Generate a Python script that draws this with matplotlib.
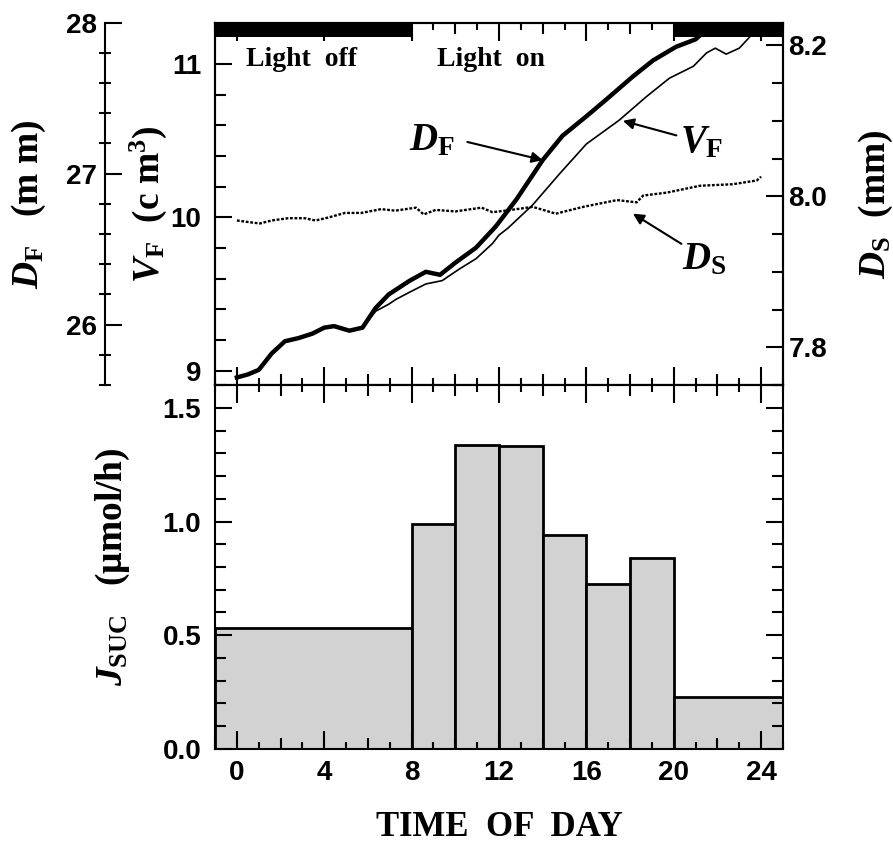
import numpy as np
import matplotlib
matplotlib.use("Agg")
import matplotlib.pyplot as plt
from matplotlib.ticker import MultipleLocator, FuncFormatter, FormatStrFormatter

# time of day (h) and readings, top panel
df_hours = [0.0, 0.5, 1.0, 1.6, 2.2, 2.8, 3.45, 4.0, 4.45, 5.15, 5.75, 6.35, 6.95, 7.9, 8.65,
            9.3, 10.0, 10.95, 11.85, 12.8, 14.0, 14.9, 16.0, 16.9, 18.1, 19.05, 20.1, 21.0,
            21.3, 22.0, 24.0]
df_mm = [25.65, 25.67, 25.70, 25.81, 25.89, 25.91, 25.94, 25.98, 25.99, 25.96, 25.98, 26.11,
         26.20, 26.29, 26.35, 26.33, 26.41, 26.51, 26.65, 26.83, 27.09, 27.25, 27.38, 27.49,
         27.64, 27.75, 27.84, 27.89, 27.93, 28.0, 28.15]

vf_hours = [0.0, 0.5, 1.0, 1.6, 2.2, 2.8, 3.45, 4.0, 4.45, 5.15, 5.75, 6.35, 6.95, 7.3, 7.9,
            8.65, 9.4, 10.2, 10.95, 11.7, 12.0, 12.4, 13.55, 14.75, 16.0, 17.5, 18.75, 19.8,
            20.9, 21.5, 21.9, 22.4, 23.0, 23.6, 24.0, 24.3]
vf_cm3 = [8.950, 8.972, 9.005, 9.116, 9.192, 9.215, 9.236, 9.281, 9.291, 9.258, 9.281, 9.388,
          9.434, 9.467, 9.512, 9.566, 9.588, 9.665, 9.731, 9.830, 9.885, 9.929, 10.083, 10.281,
          10.479, 10.634, 10.788, 10.908, 10.986, 11.073, 11.104, 11.065, 11.104, 11.196,
          11.229, 11.282]

ds_hours = [0.0, 0.5, 1.05, 1.6, 2.35, 3.1, 3.6, 4.2, 4.95, 5.7, 6.6, 7.25, 8.2, 8.55, 9.1,
            10.0, 11.2, 11.7, 12.3, 12.8, 13.55, 14.6, 15.85, 17.4, 18.3, 18.6, 19.7, 21.2,
            22.7, 23.8, 24.0]
ds_mm = [7.968, 7.966, 7.964, 7.968, 7.971, 7.971, 7.968, 7.972, 7.978, 7.978, 7.983, 7.981,
         7.985, 7.976, 7.982, 7.980, 7.985, 7.979, 7.981, 7.983, 7.986, 7.977, 7.986, 7.995,
         7.992, 8.001, 8.005, 8.014, 8.016, 8.021, 8.026]

# sucrose import per time bin, bottom panel (outer bins run to the plot edges)
bin_edges = [-1, 8, 10, 12, 14, 16, 18, 20, 25]
jsuc = [0.53, 0.99, 1.335, 1.33, 0.94, 0.725, 0.84, 0.23]

dark_periods = [(-1, 8), (20, 25)]

plt.rcParams['font.family'] = ['Liberation Sans', 'DejaVu Sans']
plt.rcParams['font.weight'] = 'bold'
plt.rcParams['mathtext.fontset'] = 'custom'
plt.rcParams['mathtext.rm'] = 'Liberation Serif:bold'
plt.rcParams['mathtext.it'] = 'Liberation Serif:italic:bold'
plt.rcParams['mathtext.bf'] = 'Liberation Serif:bold'
plt.rcParams['axes.linewidth'] = 1.5

serif = dict(family='Liberation Serif', weight='bold')
lab = 27
tks = 20

fig = plt.figure(figsize=(8.93, 8.6), dpi=100)
ax = fig.add_axes([0.2408, 0.5523, 0.636, 0.4213])
axb = fig.add_axes([0.2408, 0.1291, 0.636, 0.4232], sharex=ax)


def hour_ticks(a):
    a.xaxis.set_major_locator(MultipleLocator(2))
    a.xaxis.set_minor_locator(MultipleLocator(1))
    a.xaxis.set_major_formatter(FuncFormatter(lambda v, p: '%d' % v if v % 4 == 0 else ''))
    a.tick_params(axis='x', which='both', direction='in', top=True, bottom=True, width=1.5,
                  labelsize=tks, pad=8)
    a.tick_params(axis='x', which='major', length=8)
    a.tick_params(axis='x', which='minor', length=5)


ax.set_xlim(-1, 25)
hour_ticks(ax)
hour_ticks(axb)
ax.tick_params(axis='x', labelbottom=False)

# V_F on main left axis
ax.plot(vf_hours, vf_cm3, color='black', lw=1.2)
ax.set_ylim(8.907, 11.27)
ax.yaxis.set_major_locator(MultipleLocator(1))
ax.yaxis.set_minor_locator(MultipleLocator(0.2))
ax.tick_params(axis='y', which='both', direction='in', left=True, right=False, width=1.5,
               labelsize=tks, pad=10)
ax.tick_params(axis='y', which='major', length=12)
ax.tick_params(axis='y', which='minor', length=8)
ax.set_ylabel(r'$V_\mathrm{F}$  (c m$^3$)', fontsize=lab, labelpad=1, **serif)

# D_F on offset left axis
ax_df = ax.twinx()
for s in ['right', 'top', 'bottom']:
    ax_df.spines[s].set_visible(False)
ax_df.spines['left'].set_visible(True)
ax_df.spines['left'].set_position(('axes', -0.1937))
ax_df.yaxis.tick_left()
ax_df.yaxis.set_label_position('left')
ax_df.plot(df_hours, df_mm, color='black', lw=3.2)
ax_df.set_ylim(25.6, 28.0)
ax_df.yaxis.set_major_locator(MultipleLocator(1))
ax_df.yaxis.set_minor_locator(MultipleLocator(0.2))
ax_df.tick_params(axis='y', which='major', direction='in', length=12, width=1.5,
                  labelsize=tks, pad=6)
ax_df.tick_params(axis='y', which='minor', direction='inout', length=9, width=1.5)
ax_df.set_ylabel(r'$D_\mathrm{F}$   (m m)', fontsize=lab, labelpad=13, **serif)

# D_S on right axis
ax_ds = ax.twinx()
ax_ds.plot(ds_hours, ds_mm, color='black', lw=1.7, ls=(0, (1.2, 0.7)))
ax_ds.set_ylim(7.75, 8.23)
ax_ds.yaxis.set_major_locator(MultipleLocator(0.2))
ax_ds.yaxis.set_minor_locator(MultipleLocator(0.05))
ax_ds.yaxis.set_major_formatter(FormatStrFormatter('%.1f'))
ax_ds.tick_params(axis='y', which='both', direction='in', width=1.5, labelsize=tks, pad=4)
ax_ds.tick_params(axis='y', which='major', length=12)
ax_ds.tick_params(axis='y', which='minor', length=8)
ax_ds.set_ylabel(r'$D_\mathrm{S}$  (mm)', fontsize=lab, labelpad=21, **serif)

for s, e in dark_periods:
    ax_ds.axvspan(s, e, ymin=0.96, ymax=1.0, color='black', lw=0, zorder=5)

ax.text(0.41, 11.03, 'Light  off', fontsize=20, va='center', **serif)
ax.text(9.17, 11.03, 'Light  on', fontsize=20, va='center', **serif)

arrow = dict(arrowstyle='-|>', color='black', lw=1.5, mutation_scale=16, shrinkA=0, shrinkB=0)
ax_df.annotate('', xy=(14.0, 27.09), xytext=(10.55, 27.21), arrowprops=arrow)
ax_df.text(9.95, 27.22, r'$D_\mathrm{F}$', fontsize=28, ha='right', va='center')
ax.annotate('', xy=(17.67, 10.63), xytext=(20.12, 10.535), arrowprops=arrow)
ax.text(20.28, 10.49, r'$V_\mathrm{F}$', fontsize=28, ha='left', va='center')
ax_ds.annotate('', xy=(18.13, 7.977), xytext=(20.35, 7.937), arrowprops=arrow)
ax_ds.text(20.37, 7.917, r'$D_\mathrm{S}$', fontsize=28, ha='left', va='center')

# bottom panel bars
axb.bar(bin_edges[:-1], jsuc, width=np.diff(bin_edges), align='edge', color='#d2d2d2',
        edgecolor='black', linewidth=2)
axb.set_ylim(0, 1.6)
axb.yaxis.set_major_locator(MultipleLocator(0.5))
axb.yaxis.set_minor_locator(MultipleLocator(0.1))
axb.yaxis.set_major_formatter(FormatStrFormatter('%.1f'))
axb.tick_params(axis='y', which='both', direction='in', left=True, right=True, width=1.5,
                labelsize=tks, pad=10)
axb.tick_params(axis='y', which='major', length=12)
axb.tick_params(axis='y', which='minor', length=8)
axb.set_ylabel(r'$J_\mathrm{SUC}$   (μmol/h)', fontsize=lab, labelpad=22, **serif)
axb.set_xlabel('TIME  OF  DAY', fontsize=25, labelpad=18, **serif)

# longer ticks every 4 h
fig.canvas.draw()
for a in (ax, axb):
    locs = a.xaxis.get_major_locator()()
    for t, v in zip(a.xaxis.get_major_ticks(len(locs)), locs):
        if v % 4 == 0:
            t.tick1line.set_markersize(13)
            t.tick2line.set_markersize(13)

fig.savefig('out.png', dpi=100)
